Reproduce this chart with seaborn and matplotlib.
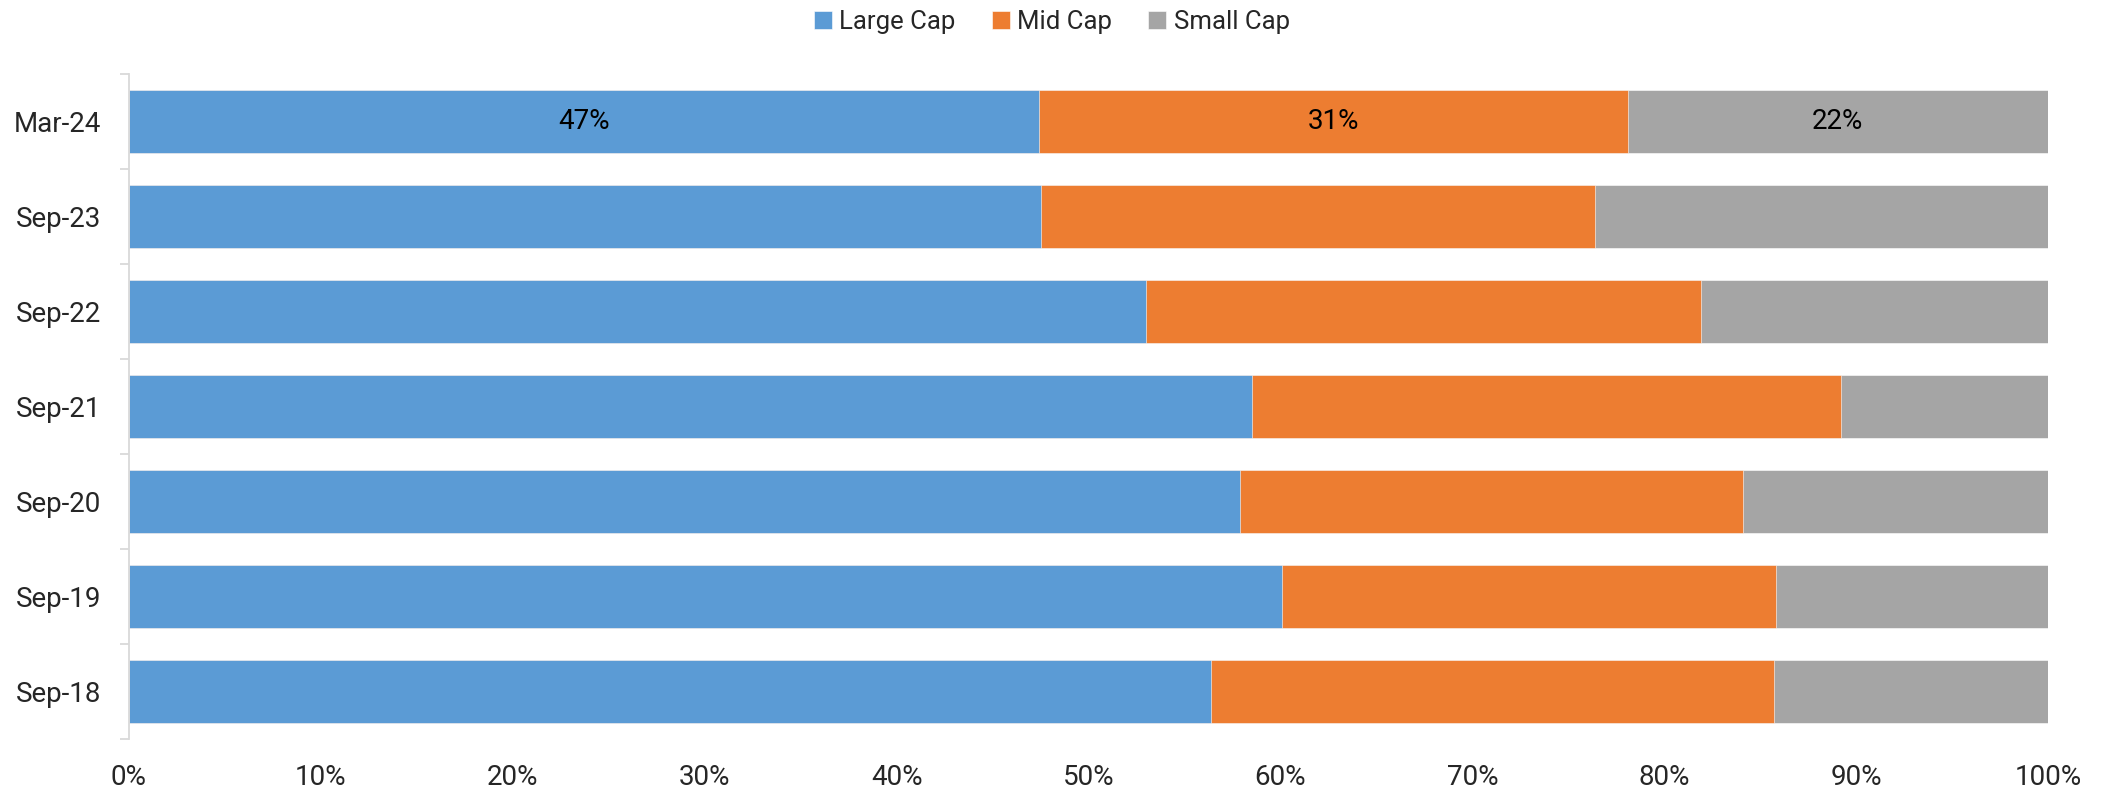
import numpy as np
import pandas as pd
import matplotlib
matplotlib.use("Agg")
import matplotlib.pyplot as plt
import matplotlib.ticker as mticker
import seaborn as sns

periods = ["Mar-24", "Sep-23", "Sep-22", "Sep-21", "Sep-20", "Sep-19", "Sep-18"]
large_cap = [47.4, 47.5, 53.0, 58.5, 57.9, 60.1, 56.4]
mid_cap = [30.7, 28.9, 28.9, 30.7, 26.2, 25.7, 29.3]
small_cap = [21.9, 23.6, 18.1, 10.8, 15.9, 14.2, 14.3]
shown_labels = {"Mar-24": ["47%", "31%", "22%"]}

series = ["Large Cap", "Mid Cap", "Small Cap"]
colors = ["#5B9BD5", "#ED7D31", "#A5A5A5"]

sns.set_theme(style="white")
plt.rcParams["font.family"] = ["Roboto", "DejaVu Sans"]

df = pd.DataFrame({"period": periods, "Large Cap": large_cap,
                   "Mid Cap": mid_cap, "Small Cap": small_cap})
df[series] = df[series].div(df[series].sum(axis=1), axis=0)
cum = df[series].cumsum(axis=1)

fig, ax = plt.subplots(figsize=(21.04, 7.9), dpi=100)
fig.subplots_adjust(left=0.0613, right=0.9734, top=0.906, bottom=0.0646)

# stacked: draw widest (cumulative) first, then overlay
for name, color in reversed(list(zip(series, colors))):
    sns.barplot(x=cum[name], y=df["period"], color=color, width=0.66,
                orient="h", ax=ax, label=name, saturation=1,
                edgecolor="white", linewidth=0.4)

# labels for the first period
row = df.index[df["period"] == "Mar-24"][0]
for i, name in enumerate(series):
    start = 0 if i == 0 else cum.loc[row, series[i - 1]]
    mid = start + df.loc[row, name] / 2
    ax.text(mid, row, shown_labels["Mar-24"][i], ha="center", va="center",
            fontsize=20, color="black")

ax.set_xlim(0, 1)
ax.set_ylim(len(periods) - 0.5, -0.5)
ax.xaxis.set_major_locator(mticker.MultipleLocator(0.1))
ax.xaxis.set_major_formatter(mticker.PercentFormatter(1.0, decimals=0))
ax.set_xlabel("")
ax.set_ylabel("")

for s in ["top", "right", "bottom"]:
    ax.spines[s].set_visible(False)
ax.spines["left"].set_color("#d9d9d9")
ax.spines["left"].set_linewidth(1.3)

ax.tick_params(axis="x", length=0, pad=18, labelsize=20)
ax.tick_params(axis="y", which="major", length=0, pad=20, labelsize=20)
ax.yaxis.set_minor_locator(mticker.FixedLocator(np.arange(-0.5, len(periods), 1.0)))
ax.tick_params(axis="y", which="minor", left=True, length=6.5, width=1.3,
               color="#d9d9d9", direction="out")

handles, labels = ax.get_legend_handles_labels()
order = [labels.index(n) for n in series]
ax.legend([handles[i] for i in order], series, loc="upper center",
          bbox_to_anchor=(0.5, 1.016), bbox_transform=fig.transFigure,
          ncol=3, frameon=False, fontsize=18.5, handlelength=0.7,
          handleheight=0.7, handletextpad=0.3, columnspacing=1.4)

fig.savefig("out.png", dpi=100)
